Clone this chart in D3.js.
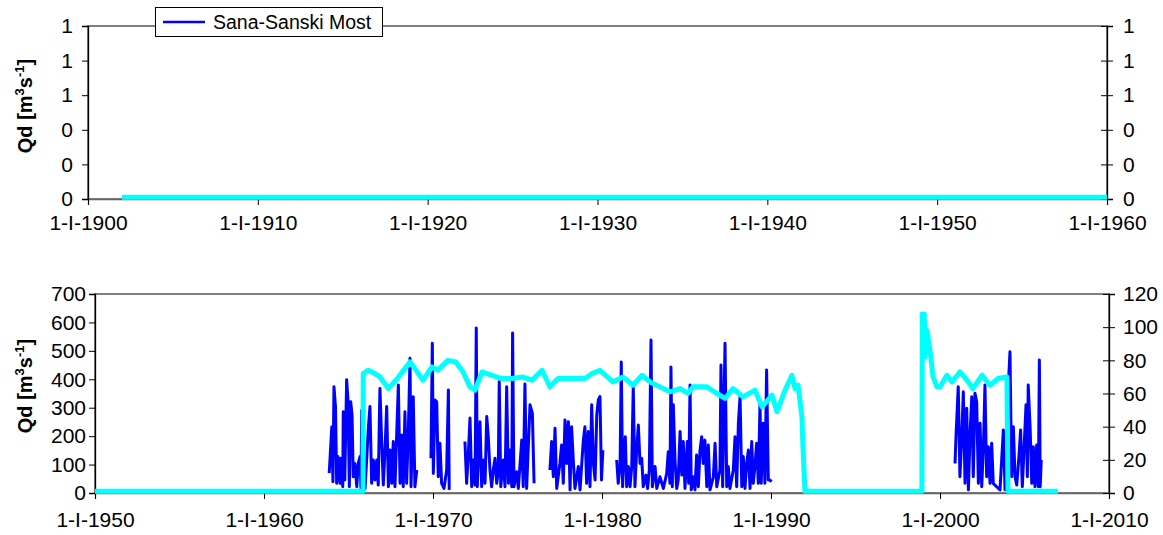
<!DOCTYPE html>
<html>
<head>
	<meta charset="utf-8">
	<title>Sana-Sanski Most</title>
	<script src="https://cdn.jsdelivr.net/npm/d3@7"></script>
</head>
<style type="text/css">
	body { margin:0; background-color:#fff; }
	text { font-family: "Liberation Sans", Arial, sans-serif; }
</style>
<body>
</body>
</html>
<script type="text/javascript">
	var width = 1163, height = 535;

	// tick values
	var topYears = [1900, 1910, 1920, 1930, 1940, 1950, 1960];
	var bottomYears = [1950, 1960, 1970, 1980, 1990, 2000, 2010];
	var topQdTicks = [0, 0.2, 0.4, 0.6, 0.8, 1];
	var bottomQdTicks = [0, 100, 200, 300, 400, 500, 600, 700];
	var bottomRightTicks = [0, 20, 40, 60, 80, 100, 120];

	// top panel: only the cyan series, flat near zero
	var cyanTop = [[1902, 0.01], [1960, 0.01]];

	// Sana-Sanski Most daily discharge (left axis)
	var qd1964 = [[1963.86,70],[1964.01,232],[1964.08,40],[1964.14,374],[1964.23,304],[1964.30,34],[1964.38,128],[1964.50,34],
		[1964.56,122],[1964.66,22],[1964.69,286],[1964.78,46],[1964.89,398],[1964.97,327],[1965.05,22],[1965.13,321],[1965.21,274],
		[1965.28,57],[1965.38,104],[1965.49,22],[1965.58,104],[1965.68,128],[1965.74,16],[1965.78,290],[1965.86,11],[1965.98,16],
		[1966.17,222],[1966.27,304],[1966.37,34],[1966.47,116],[1966.57,46],[1966.67,116],[1966.76,28],[1966.86,368],[1966.96,186],
		[1967.06,28],[1967.16,151],[1967.26,304],[1967.36,22],[1967.46,151],[1967.56,34],[1967.65,181],[1967.75,22],[1967.85,204],
		[1967.95,380],[1968.05,34],[1968.15,204],[1968.24,22],[1968.34,286],[1968.44,34],[1968.54,210],[1968.64,474],[1968.70,22],
		[1968.83,339],[1968.93,22],[1969.04,81]];
	var qd1970 = [[1969.88,122],[1969.96,527],[1970.02,69],[1970.12,327],[1970.22,321],[1970.31,57],[1970.41,175],[1970.51,34],
		[1970.65,16],[1970.81,81],[1970.91,362],[1970.96,11]];
	var qd1972 = [[1971.89,181],[1971.99,34],[1972.09,134],[1972.19,264],[1972.29,22],[1972.38,116],[1972.49,28],[1972.56,580],
		[1972.62,22],[1972.68,116],[1972.78,251],[1972.88,22],[1972.98,116],[1973.08,34],[1973.18,269],[1973.27,198],[1973.37,81],
		[1973.47,22],[1973.57,81],[1973.67,122],[1973.77,34],[1973.86,75],[1973.92,391],[1974.01,22],[1974.16,116],[1974.26,22],
		[1974.36,374],[1974.46,34],[1974.56,151],[1974.66,22],[1974.71,563],[1974.79,22],[1974.95,75],[1975.05,16],[1975.25,186],
		[1975.34,22],[1975.44,383],[1975.54,16],[1975.74,310],[1975.88,280],[1975.98,34]];
	var qd1977 = [[1976.92,81],[1977.02,181],[1977.12,57],[1977.22,228],[1977.32,16],[1977.51,104],[1977.61,169],[1977.71,34],
		[1977.81,257],[1977.91,104],[1978.01,251],[1978.11,11],[1978.20,233],[1978.30,116],[1978.40,16],[1978.60,93],[1978.70,11],
		[1978.89,181],[1978.99,233],[1979.09,34],[1979.19,216],[1979.29,22],[1979.39,310],[1979.49,104],[1979.59,46],[1979.69,274],
		[1979.78,327],[1979.88,339],[1979.97,46],[1980.05,151]];
	var qd1981 = [[1980.87,116],[1980.96,34],[1981.07,93],[1981.14,461],[1981.22,22],[1981.30,151],[1981.38,198],[1981.46,22],
		[1981.56,93],[1981.66,22],[1981.76,93],[1981.85,374],[1981.95,22],[1982.05,151],[1982.15,239],[1982.25,104],[1982.35,122],
		[1982.44,22],[1982.60,63],[1982.70,16],[1982.80,81],[1982.90,538],[1982.98,22],[1983.14,93],[1983.24,16],[1983.43,57],
		[1983.63,16],[1983.83,69],[1983.92,145],[1984.02,34],[1984.08,443],[1984.16,22],[1984.22,310],[1984.32,116],[1984.42,16],
		[1984.51,46],[1984.62,216],[1984.72,63],[1984.81,181],[1984.91,16],[1985.05,181],[1985.13,34],[1985.21,380],[1985.28,11],
		[1985.40,57],[1985.50,11],[1985.60,134],[1985.70,22],[1985.80,151],[1985.90,198],[1985.99,104],[1986.09,186],[1986.20,22],
		[1986.29,169],[1986.39,11],[1986.59,57],[1986.69,175],[1986.79,22],[1986.98,81],[1987.04,450],[1987.14,22],[1987.22,327],
		[1987.28,527],[1987.38,22],[1987.47,93],[1987.57,16],[1987.77,81],[1987.87,198],[1987.97,22],[1988.07,245],[1988.17,339],
		[1988.27,22],[1988.36,128],[1988.46,16],[1988.56,104],[1988.66,151],[1988.76,16],[1988.86,181],[1988.95,34],[1989.05,93],
		[1989.15,175],[1989.25,34],[1989.35,316],[1989.42,34],[1989.54,245],[1989.64,34],[1989.74,433],[1989.84,46],[1989.94,46],
		[1990.03,40]];
	var qd2001 = [[2000.89,104],[2000.95,204],[2001.08,374],[2001.18,57],[2001.28,186],[2001.38,356],[2001.48,34],[2001.58,298],
		[2001.68,11],[2001.78,210],[2001.88,339],[2001.97,57],[2002.07,351],[2002.17,321],[2002.27,34],[2002.37,245],[2002.47,22],
		[2002.57,163],[2002.66,380],[2002.76,57],[2002.86,163],[2002.96,34],[2003.06,175],[2003.15,34],[2003.35,22],[2003.55,11],
		[2003.75,222],[2003.85,11],[2003.95,57],[2004.04,374],[2004.14,497],[2004.24,57],[2004.34,233],[2004.44,57],[2004.54,28],
		[2004.67,128],[2004.77,222],[2004.87,22],[2004.97,151],[2005.09,310],[2005.17,57],[2005.22,380],[2005.33,233],[2005.43,34],
		[2005.52,163],[2005.62,22],[2005.72,169],[2005.82,22],[2005.88,468],[2005.93,22],[2005.99,116]];
	var qdSegments = [qd1964, qd1970, qd1972, qd1977, qd1981, qd2001];

	// cyan series (right axis)
	var cyanBottom = [[1950,1],[1965.86,1],[1965.87,72],[1966.16,74],[1966.57,72],[1966.86,70],[1967.36,63],[1967.89,69],
		[1968.34,75],[1968.64,79],[1968.93,75],[1969.41,68],[1969.94,76],[1970.29,74],[1970.88,80],[1971.35,79],[1971.78,73],
		[1972.19,64],[1972.49,62],[1972.90,73],[1973.49,71],[1974.08,69],[1974.67,69],[1975.27,70],[1975.86,68],[1976.45,74],
		[1976.92,64],[1977.40,69],[1977.99,69],[1978.99,69],[1979.41,72],[1979.88,74],[1980.65,67],[1981.24,70],[1981.83,65],
		[1982.37,71],[1982.84,67],[1983.43,64],[1984.02,61],[1984.62,63],[1985.09,60],[1985.38,64],[1986.21,64],[1986.80,60],
		[1987.28,57],[1987.75,63],[1988.34,58],[1989.05,62],[1989.47,52],[1990.06,59],[1990.36,49],[1990.83,62],[1991.24,71],
		[1991.42,63],[1991.60,65],[1991.83,46],[1991.89,28],[1992.01,1],[1998.93,1],[1998.95,108],[1999.07,108],[1999.11,82],
		[1999.23,98],[1999.41,86],[1999.59,70],[1999.82,64],[2000.00,64],[2000.41,71],[2000.71,67],[2001.18,73],[2001.60,68],
		[2001.95,63],[2002.49,71],[2002.96,65],[2003.43,69],[2003.96,70],[2004.02,1],[2006.98,1]];

	var svg = d3.select("body").append("svg").attr("width", width).attr("height", height);

	function yTitle(cx, cy) {
		var t = svg.append("text").attr("transform", "translate(" + cx + "," + cy + ") rotate(-90)")
			.attr("text-anchor", "middle").attr("font-weight", "bold").attr("font-size", 20);
		t.append("tspan").text("Qd [m");
		t.append("tspan").attr("dy", -8).attr("font-size", 13).text("3");
		t.append("tspan").attr("dy", 8).text("s");
		t.append("tspan").attr("dy", -8).attr("font-size", 13).text("-1");
		t.append("tspan").attr("dy", 8).text("]");
	}

	function styleAxis(g) {
		g.attr("font-family", null).attr("font-size", 21);
		g.selectAll("text").attr("fill", "#000");
		g.selectAll("line").attr("stroke", "#000");
		g.select(".domain").attr("stroke", "#000").attr("stroke-width", 1.3);
	}

	function panel(p) {
		var x = d3.scaleLinear().domain(p.xDomain).range([p.left, p.right]);
		var yL = d3.scaleLinear().domain(p.yLDomain).range([p.bottom, p.top]);
		var yR = d3.scaleLinear().domain(p.yRDomain).range([p.bottom, p.top]);

		svg.append("rect").attr("x", p.left).attr("y", p.top).attr("width", p.right - p.left).attr("height", p.bottom - p.top)
			.attr("fill", "none").attr("stroke", "#808080").attr("stroke-width", 2);

		var gx = svg.append("g").attr("transform", "translate(0," + p.bottom + ")")
			.call(d3.axisBottom(x).tickValues(p.years).tickFormat(function(d){ return "1-I-" + d; })
				.tickSizeOuter(0).tickSize(6).tickPadding(p.xPad));
		styleAxis(gx);
		gx.select(".domain").attr("stroke", "#666");

		var gl = svg.append("g").attr("transform", "translate(" + p.left + ",0)")
			.call(d3.axisLeft(yL).tickValues(p.yLTicks).tickFormat(d3.format(".0f")).tickSizeOuter(0).tickSize(6).tickPadding(p.lPad));
		styleAxis(gl);

		var gr = svg.append("g").attr("transform", "translate(" + p.right + ",0)")
			.call(d3.axisRight(yR).tickValues(p.yRTicks).tickFormat(d3.format(".0f")).tickSizeOuter(0).tickSize(6).tickPadding(p.rPad));
		styleAxis(gr);
		gr.selectAll(".tick line").attr("x1", -6);

		var lineL = d3.line().x(function(d){ return x(d[0]); }).y(function(d){ return yL(d[1]); });
		var lineR = d3.line().x(function(d){ return x(d[0]); }).y(function(d){ return yR(d[1]); });

		(p.blue || []).forEach(function(seg) {
			svg.append("path").datum(seg).attr("d", lineL).attr("fill", "none")
				.attr("stroke", "#0000ff").attr("stroke-width", 3).attr("stroke-linejoin", "round");
		});
		svg.append("path").datum(p.cyan).attr("d", lineR).attr("fill", "none")
			.attr("stroke", "#00ffff").attr("stroke-width", 5).attr("stroke-linejoin", "round");

		yTitle(p.titleX, p.titleY);
	}

	panel({left: 88, right: 1107, top: 26, bottom: 199,
		xDomain: [1900, 1960], yLDomain: [0, 1], yRDomain: [0, 1],
		years: topYears, yLTicks: topQdTicks, yRTicks: topQdTicks,
		xPad: 10, lPad: 9, rPad: 10, cyan: cyanTop, titleX: 32, titleY: 106});

	panel({left: 95, right: 1109, top: 294, bottom: 493,
		xDomain: [1950, 2010], yLDomain: [0, 700], yRDomain: [0, 120],
		years: bottomYears, yLTicks: bottomQdTicks, yRTicks: bottomRightTicks,
		xPad: 13, lPad: 3, rPad: 8, blue: qdSegments, cyan: cyanBottom, titleX: 32, titleY: 386});

	// legend
	var lg = svg.append("g");
	lg.append("rect").attr("x", 155.5).attr("y", 7.5).attr("width", 227).attr("height", 29)
		.attr("fill", "#fff").attr("stroke", "#000");
	lg.append("line").attr("x1", 163).attr("x2", 205).attr("y1", 22).attr("y2", 22)
		.attr("stroke", "#0000ff").attr("stroke-width", 2.6);
	lg.append("text").attr("x", 213).attr("y", 29).attr("font-size", 19.5).text("Sana-Sanski Most");
</script>
